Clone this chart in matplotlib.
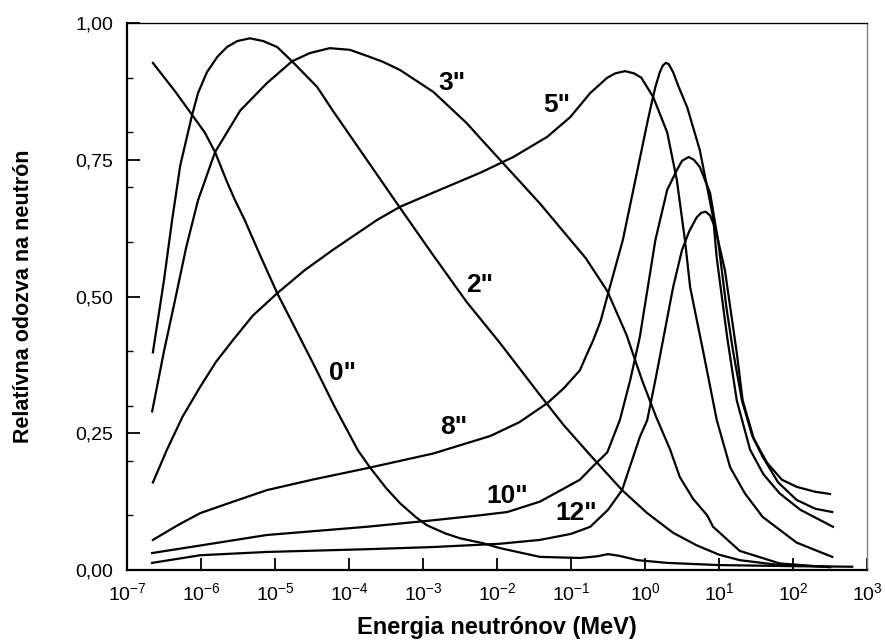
import numpy as np
import matplotlib
matplotlib.use('Agg')
import matplotlib.pyplot as plt
from matplotlib.ticker import FixedLocator, NullFormatter

# ============================================
# 1. DATA (log10 of energy in MeV, relative response)
# ============================================
logE_0 = [-6.65, -6.35, -6.12, -5.95, -5.81, -5.65, -5.54, -5.41, -5.2, -4.97, -4.72, -4.46,
          -4.2, -3.88, -3.72, -3.5, -3.31, -3.1, -2.95, -2.7, -2.5, -2.19, -1.96, -1.42,
          -0.88, -0.65, -0.5, -0.35, -0.1, 0.3, 1.0, 2.0, 2.8]
R_0 = [0.927, 0.875, 0.832, 0.80, 0.764, 0.71, 0.676, 0.64, 0.575, 0.506, 0.44, 0.371,
       0.30, 0.219, 0.188, 0.15, 0.122, 0.097, 0.082, 0.067, 0.058, 0.049, 0.040, 0.024,
       0.022, 0.025, 0.029, 0.026, 0.018, 0.013, 0.009, 0.007, 0.006]

logE_2 = [-6.65, -6.5, -6.39, -6.28, -6.12, -6.04, -5.92, -5.78, -5.65, -5.51, -5.34, -5.16,
          -4.97, -4.77, -4.43, -4.22, -3.76, -3.31, -2.86, -2.41, -1.96, -1.42, -1.1, -0.74,
          -0.31, 0.03, 0.38, 0.7, 1.0, 1.28, 1.82, 2.5]
R_2 = [0.398, 0.53, 0.64, 0.74, 0.832, 0.872, 0.91, 0.938, 0.956, 0.967, 0.972, 0.967,
       0.956, 0.93, 0.883, 0.84, 0.75, 0.662, 0.575, 0.49, 0.415, 0.32, 0.265, 0.21,
       0.146, 0.104, 0.068, 0.045, 0.028, 0.018, 0.009, 0.006]

logE_3 = [-6.66, -6.5, -6.35, -6.2, -6.04, -5.81, -5.47, -5.11, -4.77, -4.53, -4.26, -3.99,
          -3.76, -3.54, -3.31, -2.86, -2.41, -2.23, -1.96, -1.42, -1.11, -0.8, -0.51, -0.25,
          -0.04, 0.15, 0.34, 0.47, 0.65, 0.84, 0.92, 1.28, 1.82, 2.5]
R_3 = [0.29, 0.40, 0.494, 0.59, 0.676, 0.764, 0.84, 0.89, 0.93, 0.945, 0.954, 0.951,
       0.94, 0.929, 0.914, 0.874, 0.817, 0.79, 0.75, 0.67, 0.62, 0.57, 0.51, 0.43,
       0.347, 0.28, 0.22, 0.17, 0.13, 0.10, 0.079, 0.035, 0.012, 0.005]

logE_5 = [-6.65, -6.46, -6.25, -6.01, -5.8, -5.57, -5.3, -4.97, -4.6, -4.22, -3.62, -3.31,
          -2.86, -2.23, -1.78, -1.32, -1.01, -0.74, -0.51, -0.4, -0.27, -0.15, -0.05, 0.11,
          0.30, 0.43, 0.54, 0.61, 0.79, 0.97, 1.15, 1.35, 1.59, 2.05, 2.53]
R_5 = [0.16, 0.22, 0.28, 0.335, 0.38, 0.42, 0.465, 0.506, 0.548, 0.585, 0.64, 0.664,
       0.69, 0.726, 0.755, 0.792, 0.828, 0.872, 0.90, 0.908, 0.912, 0.908, 0.90, 0.865,
       0.80, 0.713, 0.603, 0.517, 0.397, 0.274, 0.188, 0.14, 0.097, 0.05, 0.024]

logE_8 = [-6.65, -6.3, -6.01, -5.5, -5.11, -4.5, -3.76, -2.86, -2.5, -2.09, -1.7, -1.32,
          -1.1, -0.88, -0.8, -0.7, -0.6, -0.51, -0.3, -0.11, 0.03, 0.1, 0.14, 0.2,
          0.24, 0.28, 0.32, 0.38, 0.45, 0.57, 0.74, 0.92, 0.97, 1.11, 1.24, 1.42,
          1.6, 1.82, 2.1, 2.54]
R_8 = [0.055, 0.083, 0.104, 0.128, 0.146, 0.165, 0.186, 0.213, 0.228, 0.245, 0.27, 0.305,
       0.332, 0.365, 0.39, 0.42, 0.455, 0.50, 0.603, 0.726, 0.817, 0.86, 0.883, 0.91,
       0.922, 0.927, 0.925, 0.91, 0.885, 0.846, 0.768, 0.645, 0.57, 0.426, 0.31, 0.22,
       0.175, 0.14, 0.11, 0.079]

logE_10 = [-6.66, -6.0, -5.11, -3.76, -2.86, -2.23, -1.86, -1.42, -0.88, -0.7, -0.51, -0.34,
           -0.2, -0.07, 0.14, 0.3, 0.43, 0.5, 0.59, 0.66, 0.74, 0.88, 0.99, 1.1,
           1.19, 1.31, 1.45, 1.59, 1.8, 2.05, 2.3, 2.53]
R_10 = [0.031, 0.045, 0.064, 0.079, 0.091, 0.10, 0.106, 0.125, 0.165, 0.19, 0.215, 0.274,
        0.347, 0.426, 0.603, 0.695, 0.731, 0.748, 0.755, 0.75, 0.737, 0.689, 0.60, 0.48,
        0.40, 0.31, 0.245, 0.207, 0.16, 0.128, 0.112, 0.106]

logE_12 = [-6.66, -6.01, -5.11, -3.76, -2.86, -1.96, -1.42, -1.0, -0.74, -0.5, -0.31, -0.07,
           0.03, 0.14, 0.38, 0.5, 0.6, 0.7, 0.76, 0.82, 0.88, 0.95, 1.08, 1.24,
           1.32, 1.47, 1.65, 1.85, 2.05, 2.3, 2.5]
R_12 = [0.013, 0.027, 0.033, 0.038, 0.042, 0.048, 0.055, 0.066, 0.079, 0.11, 0.146, 0.243,
        0.274, 0.347, 0.517, 0.585, 0.62, 0.645, 0.653, 0.655, 0.648, 0.625, 0.548, 0.397,
        0.31, 0.24, 0.196, 0.165, 0.152, 0.143, 0.139]

curves = [('0"', logE_0, R_0), ('2"', logE_2, R_2), ('3"', logE_3, R_3),
          ('5"', logE_5, R_5), ('8"', logE_8, R_8), ('10"', logE_10, R_10),
          ('12"', logE_12, R_12)]

x_exps = [-7, -6, -5, -4, -3, -2, -1, 0, 1, 2, 3]
y_ticks = [0.0, 0.25, 0.5, 0.75, 1.0]
y_ticklabels = ['0,00', '0,25', '0,50', '0,75', '1,00']
y_minor = [0.1, 0.2, 0.3, 0.4, 0.6, 0.7, 0.8, 0.9]

# label anchor points (log10 E, response)
label_pos = {'0"': (-4.09, 0.36), '2"': (-2.23, 0.521), '3"': (-2.61, 0.89),
             '5"': (-1.19, 0.85), '8"': (-2.58, 0.261), '10"': (-1.86, 0.135),
             '12"': (-0.93, 0.104)}

# ============================================
# 2. STYLE
# ============================================
plt.rcParams['font.family'] = ['Liberation Sans', 'DejaVu Sans']
plt.rcParams['mathtext.fontset'] = 'custom'
plt.rcParams['mathtext.rm'] = 'Liberation Sans'
plt.rcParams['mathtext.it'] = 'Liberation Sans:italic'
plt.rcParams['mathtext.bf'] = 'Liberation Sans:bold'

fig = plt.figure(figsize=(8.85, 6.41), dpi=100)
ax = fig.add_axes([127 / 885, 71 / 641, 740 / 885, 547 / 641])

# ============================================
# 3. CURVES
# ============================================
for name, logE, R in curves:
    ax.plot(10.0 ** np.array(logE), R, color='black', lw=1.6, solid_joinstyle='round')
    lx, ly = label_pos[name]
    ax.text(10.0 ** lx, ly, name, fontsize=19, fontweight='bold', ha='center', va='center')

# ============================================
# 4. AXES
# ============================================
ax.set_xscale('log')
ax.set_xlim(1e-7, 1e3)
ax.set_ylim(0, 1)

ax.xaxis.set_major_locator(FixedLocator([10.0 ** e for e in x_exps]))
ax.set_xticklabels([r'$10^{%d}$' % e for e in x_exps])
ax.xaxis.set_minor_locator(FixedLocator([]))
ax.yaxis.set_major_locator(FixedLocator(y_ticks))
ax.set_yticklabels(y_ticklabels)
ax.yaxis.set_minor_locator(FixedLocator(y_minor))
ax.yaxis.set_minor_formatter(NullFormatter())

ax.tick_params(which='major', direction='in', length=9, width=1.3, labelsize=14,
               top=False, right=False)
ax.tick_params(which='minor', direction='in', length=4, width=1.0, top=False, right=False)
ax.tick_params(axis='x', pad=9)
ax.tick_params(axis='y', pad=10)

for side in ['left', 'bottom']:
    ax.spines[side].set_linewidth(1.6)
ax.spines['top'].set_linewidth(1.0)
ax.spines['right'].set_linewidth(1.0)
ax.spines['right'].set_color('#808080')

ax.set_xlabel('Energia neutrónov (MeV)', fontsize=17, fontweight='bold', labelpad=8)
ax.set_ylabel('Relatívna odozva na neutrón', fontsize=15.5, fontweight='bold', labelpad=30)

fig.savefig('out.png', dpi=100)
